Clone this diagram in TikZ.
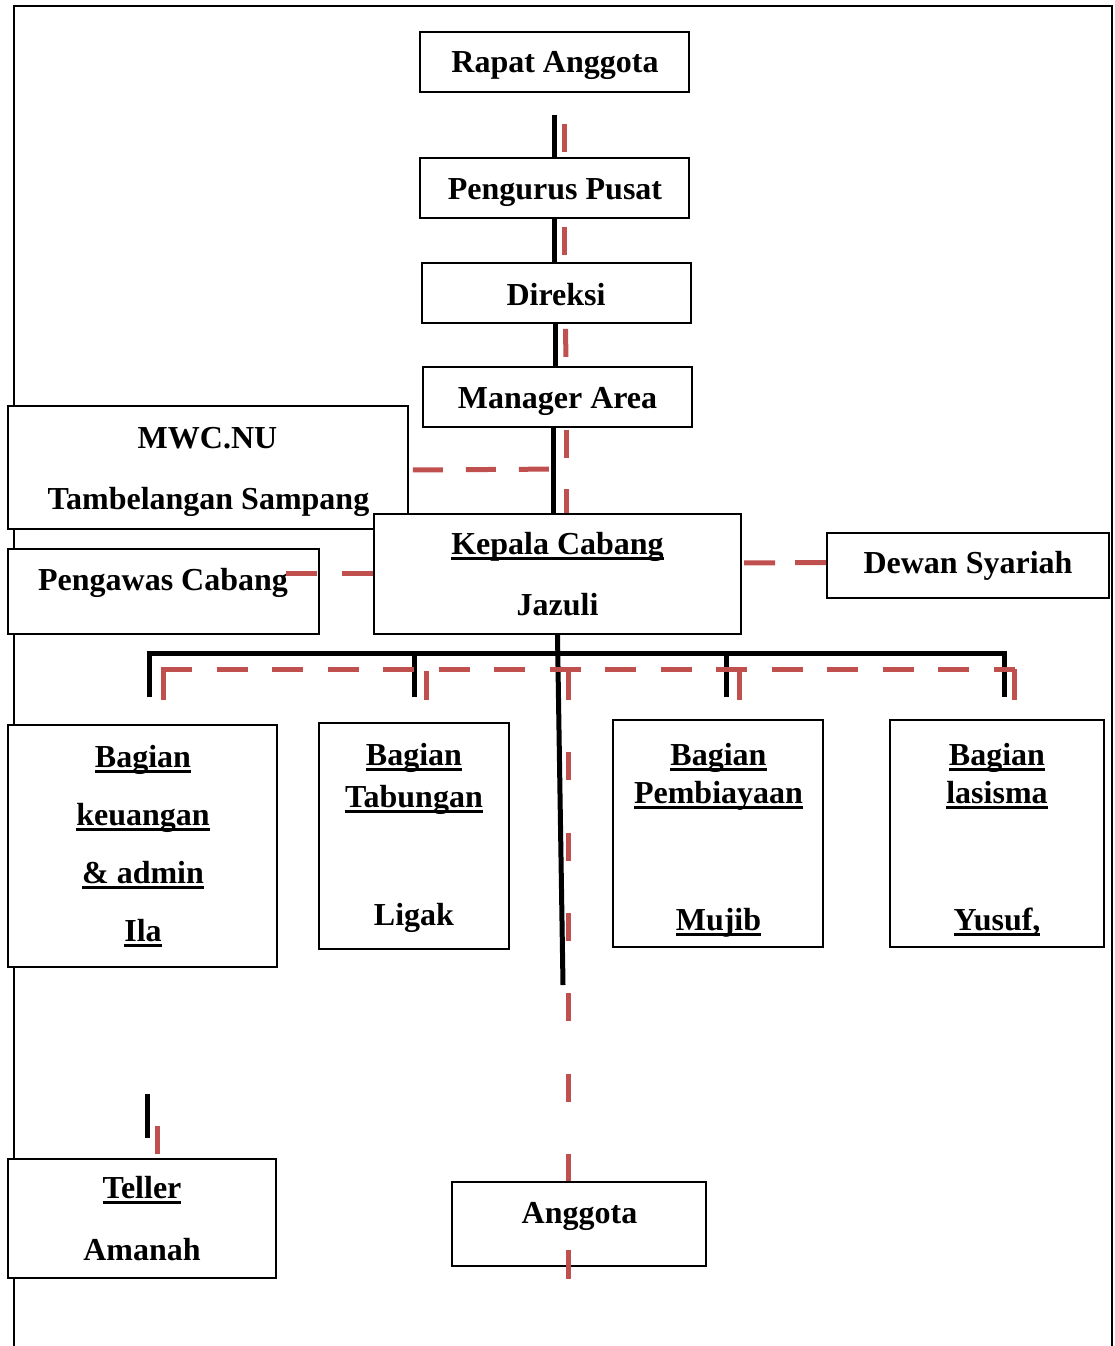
\documentclass[tikz,border=0pt]{standalone}
\usepackage{fontspec}
\setmainfont{Liberation Serif}
\usetikzlibrary{calc}
\definecolor{redc}{HTML}{C0504D}
\newcommand\uln[1]{\mbox{\setbox0=\hbox{#1}\rlap{\rule[-6pt]{\wd0}{3pt}}\box0}}
\begin{document}
\begin{tikzpicture}[x=1pt,y=-1pt,
  box/.style={draw, line width=1.8pt, fill=white, inner sep=0pt, rectangle},
  txt/.style={anchor=base, inner sep=0pt, font=\bfseries\fontsize{32}{38}\selectfont},
  blk/.style={line width=5pt, draw=black},
  rdl/.style={line width=5pt, draw=redc},
  frameline/.style={line width=2.5pt}]
\useasboundingbox (0,0) rectangle (1115,1346);
% outer frame
\draw[frameline] (14,1346) -- (14,6) -- (1112,6) -- (1112,1346);
% boxes
\node[box, minimum width=269pt, minimum height=60pt] (rapat) at (554.5,62) {};
\node[box, minimum width=269pt, minimum height=60pt] (pengurus) at (554.5,188) {};
\node[box, minimum width=269pt, minimum height=60pt] (direksi) at (556.5,293) {};
\node[box, minimum width=269pt, minimum height=60pt] (manager) at (557.5,397) {};
\node[box, minimum width=400pt, minimum height=123pt] (mwc) at (208,467.5) {};
\node[box, minimum width=367pt, minimum height=120pt] (kepala) at (557.5,574) {};
\node[box, minimum width=311pt, minimum height=85pt] (pengawas) at (163.5,591.5) {};
\node[box, minimum width=282pt, minimum height=65pt] (dewan) at (968,565.5) {};
\node[box, minimum width=269pt, minimum height=242pt] (keu) at (142.5,846) {};
\node[box, minimum width=190pt, minimum height=226pt] (tab) at (414,836) {};
\node[box, minimum width=210pt, minimum height=227pt] (pemb) at (718,833.5) {};
\node[box, minimum width=214pt, minimum height=227pt] (lasisma) at (997,833.5) {};
\node[box, minimum width=268pt, minimum height=119pt] (teller) at (142,1218.5) {};
\node[box, minimum width=254pt, minimum height=84pt] (anggota) at (579,1224) {};
% texts
\node[txt] (t1) at (555,73) {Rapat Anggota};
\node[txt] (t2) at (555,199) {Pengurus Pusat};
\node[txt] (t3) at (556,305) {Direksi};
\node[txt] (t4) at (557.5,408) {Manager Area};
\node[txt] (t5) at (207.5,448) {MWC.NU};
\node[txt] (t6) at (208.5,509) {Tambelangan Sampang};
\node[txt] (t7) at (163,590) {Pengawas Cabang};
\node[txt] (t8) at (557.5,554) {\uln{Kepala Cabang}};
\node[txt] (t9) at (557.5,615) {Jazuli};
\node[txt] (t10) at (968,573) {Dewan Syariah};
\node[txt] (t11) at (143,767) {\uln{Bagian}};
\node[txt] (t12) at (143,825) {\uln{keuangan}};
\node[txt] (t13) at (143,883) {\uln{\& admin}};
\node[txt] (t14) at (143,941) {\uln{Ila}};
\node[txt] (t15) at (414,765) {\uln{Bagian}};
\node[txt] (t16) at (414,807) {\uln{Tabungan}};
\node[txt] (t17) at (414,925) {Ligak};
\node[txt] (t18) at (718.5,765) {\uln{Bagian}};
\node[txt] (t19) at (718.5,803) {\uln{Pembiayaan}};
\node[txt] (t20) at (718.5,930) {\uln{Mujib}};
\node[txt] (t21) at (997,765) {\uln{Bagian}};
\node[txt] (t22) at (997,803) {\uln{lasisma}};
\node[txt] (t23) at (997,930) {\uln{Yusuf,}};
\node[txt] (t24) at (142,1198) {\uln{Teller}};
\node[txt] (t25) at (142,1260) {Amanah};
\node[txt] (t26) at (579.5,1223) {Anggota};
% coordinates for free ends
\coordinate (cend) at (563,985);
\coordinate (bl) at (149,697);
\coordinate (br) at (1004,697);
\coordinate (bm1) at (414,697);
\coordinate (bm2) at (726,697);
\coordinate (rl) at (163,700);
\coordinate (rr) at (1014,700);
\coordinate (rm1) at (426,700);
\coordinate (rm2) at (739,700);
\coordinate (rbarl) at (161,669);
\coordinate (rbarr) at (1015,669);
\coordinate (rc) at (568,672);
% black connectors (top chain)
\draw[blk] ($(rapat.south)+(0,22)$) -- (pengurus.north);
\draw[blk] (pengurus.south) -- (pengurus.south |- direksi.north);
\draw[blk] ($(direksi.south)+(-1.5,0)$) -- ($(manager.north)+(-2.5,0)$);
\draw[blk] ($(manager.south)+(-4.5,0)$) -- ($(kepala.north)+(-4.5,0)$);
% red dashed connectors (top chain)
\draw[rdl, dash pattern=on 28pt off 80pt, dash phase=77pt] ($(rapat.south)+(9.5,0)$) -- ($(pengurus.north)+(9.5,0)$);
\draw[rdl, dash pattern=on 28pt off 80pt, dash phase=100pt] ($(pengurus.south)+(10,0)$) -- ($(direksi.north)+(8,0)$);
\draw[rdl, dash pattern=on 28pt off 80pt, dash phase=103pt] ($(direksi.south)+(9,0)$) -- ($(manager.north)+(8.5,0)$);
\draw[rdl, dash pattern=on 28pt off 31pt, dash phase=57pt] ($(manager.south)+(8.5,0)$) -- ($(kepala.north)+(8.5,0)$);
% side connectors
\draw[rdl, dash pattern=on 30pt off 23pt, dash phase=49pt] ($(mwc.east)+(0,2.5)$) -- ($(kepala.north)+(-7,-44)$);
\draw[rdl, dash pattern=on 31pt off 25pt] ($(kepala.west)+(0,-1)$) -- ++(-87,0);
\draw[rdl, dash pattern=on 31pt off 20pt] ($(dewan.west)+(0,-3)$) -- ($(kepala.east)+(0,-11)$);
% black tree
\draw[blk] (kepala.south) -- (cend);
\draw[blk] (bl) -- ++(0,-44) -| (br);
\draw[blk] (bm1) -- ++(0,-44);
\draw[blk] (bm2) -- ++(0,-44);
% red tree
\draw[rdl, dash pattern=on 31pt off 24.5pt] (rbarl) -- (rbarr);
\draw[rdl] (rl) -- ++(0,-31);
\draw[rdl] (rm1) -- ++(0,-29);
\draw[rdl] (rm2) -- ++(0,-29);
\draw[rdl] (rr) -- ++(0,-31);
\draw[rdl, dash pattern=on 28pt off 52.3pt] (rc) -- ($(anggota.north)+(-11,0)$);
\draw[rdl] ($(anggota.south)+(-11,-17)$) -- ($(anggota.south)+(-11,12)$);
% teller stubs
\draw[blk] ($(teller.north)+(5,-64)$) -- ($(teller.north)+(5,-20)$);
\draw[rdl] ($(teller.north)+(15,-32)$) -- ($(teller.north)+(15,-4)$);
\end{tikzpicture}
\end{document}
